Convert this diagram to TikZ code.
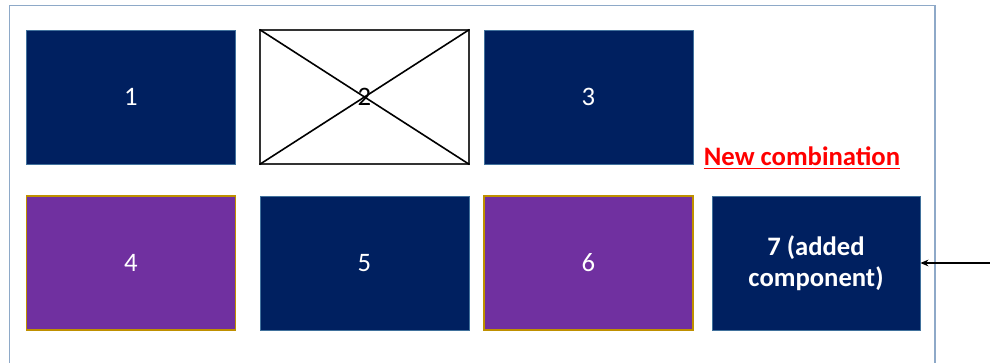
\documentclass[tikz,border=0pt]{standalone}
\usepackage{fontspec}
\setmainfont{Carlito}
\usetikzlibrary{arrows.meta}
\definecolor{navy}{HTML}{002060}
\definecolor{purp}{HTML}{7030A0}
\definecolor{gold}{HTML}{BF9000}
\definecolor{framec}{HTML}{8EA9C8}
\definecolor{navyedge}{HTML}{41719C}
\tikzset{
  px/.style={x=0.75pt,y=-0.75pt},
  box/.style={minimum width=156.75pt,minimum height=100.5pt,inner sep=0pt,font=\fontsize{20}{23}\selectfont,text=white,align=center},
  navybox/.style={box,fill=navy,draw=navyedge,line width=0.6pt},
  purpbox/.style={box,fill=purp,draw=gold,line width=0.8pt},
  crossbox/.style={box,fill=white,draw=black!80,line width=0.8pt,text=black}
}
\begin{document}
\begin{tikzpicture}[px]
\useasboundingbox (0,0) rectangle (990,363);
\draw[framec,line width=0.8pt] (9.5,370) -- (9.5,5.5) -- (935,5.5) -- (935,370);
\node[navybox] (n1) at (131,97) {1};
\node[crossbox] (n2) at (364.5,97) {};
\draw[black,line width=1.2pt] (n2.north west) -- (n2.south east) (n2.south west) -- (n2.north east);
\node[font=\fontsize{20}{23}\selectfont] (l2) at (364.5,97) {2};
\node[navybox] (n3) at (588.5,97) {3};
\node[purpbox] (n4) at (131,263) {4};
\node[navybox] (n5) at (364.5,263) {5};
\node[purpbox] (n6) at (588.5,263) {6};
\node[navybox,minimum width=156pt,font=\fontsize{20}{23}\selectfont\bfseries] (n7) at (816,263) {7 (added\\component)};
\node[text=red,font=\fontsize{20}{23}\selectfont\bfseries,inner sep=0pt] (nc) at (802,158) {\underline{New combination}};
\coordinate (a) at (992,263);
\draw[-{Stealth[length=6pt,width=5pt]},line width=1pt] (a) -- (n7.east);
\end{tikzpicture}
\end{document}
